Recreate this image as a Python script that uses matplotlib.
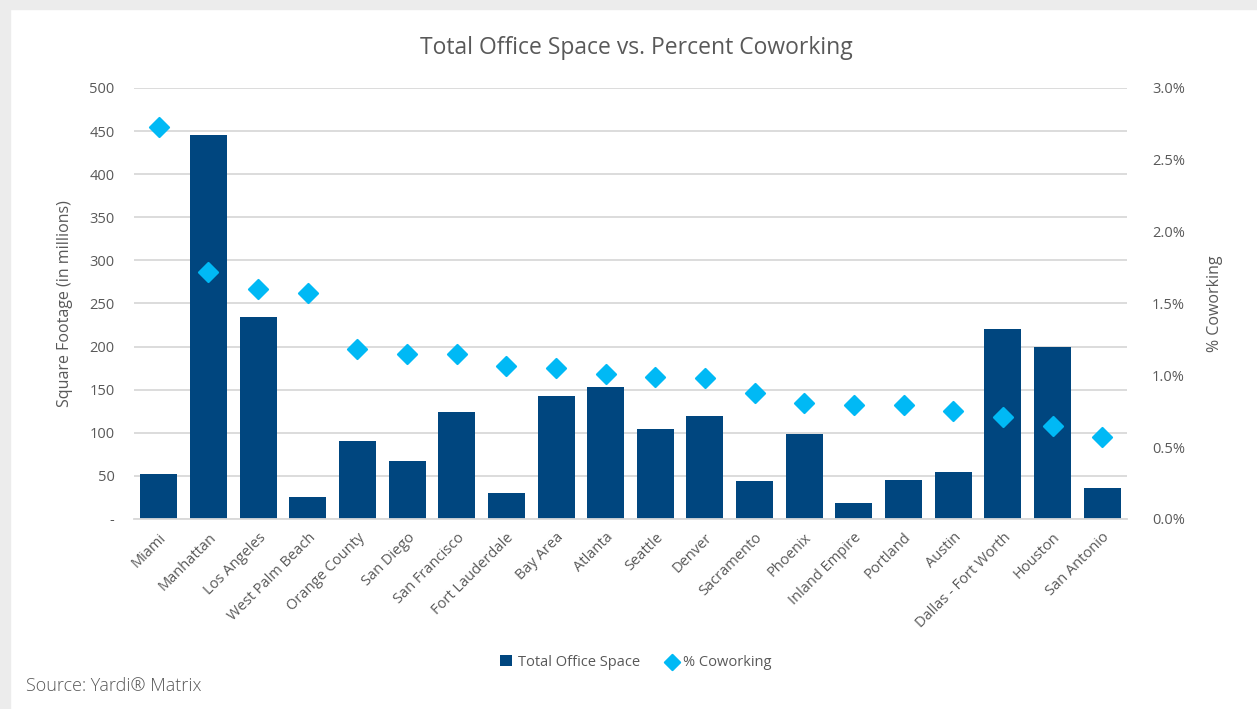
import matplotlib.pyplot as plt
from matplotlib.patches import Rectangle
from matplotlib.ticker import FuncFormatter, MultipleLocator

plt.rcParams["font.family"] = ["Open Sans", "DejaVu Sans"]

markets = [
    "Miami", "Manhattan", "Los Angeles", "West Palm Beach", "Orange County",
    "San Diego", "San Francisco", "Fort Lauderdale", "Bay Area", "Atlanta",
    "Seattle", "Denver", "Sacramento", "Phoenix", "Inland Empire",
    "Portland", "Austin", "Dallas - Fort Worth", "Houston", "San Antonio",
]
office_space = [52, 445, 234, 26, 90, 67, 124, 30, 143, 153,
                104, 120, 44, 99, 18, 45, 54, 220, 200, 36]
pct_coworking = [2.73, 1.72, 1.60, 1.57, 1.18, 1.15, 1.15, 1.065, 1.05, 1.01,
                 0.99, 0.98, 0.88, 0.81, 0.79, 0.79, 0.75, 0.71, 0.65, 0.57]

BAR = "#00467f"
DIAMOND = "#00b9f5"
TEXT = "#595959"
GRID = "#d9d9d9"

fig = plt.figure(figsize=(12.57, 7.09), dpi=100, facecolor="white")
# card shadow on the top and left edges
fig.patches.append(Rectangle((0, 0), 0.008, 1, transform=fig.transFigure,
                             color="#ececec", zorder=-5))
fig.patches.append(Rectangle((0, 0.988), 1, 0.012, transform=fig.transFigure,
                             color="#ececec", zorder=-5))

ax = fig.add_axes([0.1066, 0.268, 0.79, 0.608])
x = list(range(len(markets)))
ax.bar(x, office_space, width=0.745, color=BAR, zorder=2,
       label="Total Office Space")
ax.set_xlim(-0.5, len(markets) - 0.5)
ax.set_ylim(0, 500)
ax.yaxis.set_major_locator(MultipleLocator(50))
ax.yaxis.set_major_formatter(
    FuncFormatter(lambda v, _: "-" if v == 0 else f"{int(v)}"))
ax.grid(axis="y", color=GRID, linewidth=1.3, zorder=0)
ax.set_axisbelow(True)
for s in ["top", "right", "left"]:
    ax.spines[s].set_visible(False)
ax.spines["bottom"].set_color(GRID)
ax.spines["bottom"].set_linewidth(1.3)
ax.tick_params(axis="both", length=0, colors=TEXT, labelsize=10.5)
ax.tick_params(axis="y", pad=14)
ax.set_xticks(x)
ax.set_xticklabels(markets, rotation=45, ha="right", rotation_mode="anchor")
ax.tick_params(axis="x", pad=8)
ax.set_ylabel("Square Footage (in millions)", color=TEXT, fontsize=11.5,
              labelpad=12)

ax2 = ax.twinx()
ax2.scatter(x, pct_coworking, marker="D", s=95, color=DIAMOND, zorder=3,
            edgecolors=DIAMOND, linewidths=1.5, label="% Coworking")
ax2.set_ylim(0, 3.0)
ax2.yaxis.set_major_locator(MultipleLocator(0.5))
ax2.yaxis.set_major_formatter(FuncFormatter(lambda v, _: f"{v:.1f}%"))
for s in ax2.spines.values():
    s.set_visible(False)
ax2.tick_params(axis="y", length=0, colors=TEXT, labelsize=10.5, pad=18)
ax2.set_ylabel("% Coworking", color=TEXT, fontsize=11.5, rotation=90,
               labelpad=16)

fig.text(0.506, 0.932, "Total Office Space vs. Percent Coworking",
         ha="center", va="center", fontsize=16.5, color=TEXT)

h1, l1 = ax.get_legend_handles_labels()
h2, l2 = ax2.get_legend_handles_labels()
fig.legend(h1 + h2, l1 + l2, loc="center", bbox_to_anchor=(0.506, 0.066),
           ncol=2, frameon=False, fontsize=10.5, labelcolor=TEXT,
           handlelength=0.8, handletextpad=0.4, columnspacing=1.8,
           markerscale=0.8)

fig.text(0.021, 0.033, "Source: Yardi\u00ae Matrix", ha="left", va="center",
         fontsize=13, color=TEXT, fontweight="light")

fig.savefig("out.png", dpi=100, facecolor="white")
